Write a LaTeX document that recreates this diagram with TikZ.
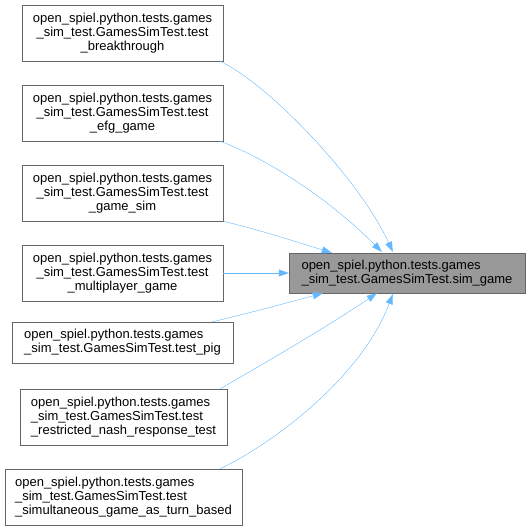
\documentclass[tikz,border=0pt]{standalone}
\usepackage{fontspec}
\setmainfont{Liberation Sans}
\usetikzlibrary{arrows.meta}
\definecolor{edgeblue}{HTML}{63B8FF}
\definecolor{boxgray}{HTML}{666666}
\definecolor{hitgray}{HTML}{999999}

\begin{document}
\begin{tikzpicture}[x=1pt, y=-1pt,
    every node/.style={draw=boxgray, rectangle, inner sep=0pt, font=\fontsize{13}{14}\selectfont},
    caller/.style={align=center, minimum width=201pt, minimum height=56pt},
    callee/.style={fill=hitgray, align=left, minimum width=236pt, minimum height=40pt},
    link/.style={draw=edgeblue, -{Triangle[length=10pt, width=7pt]}}]
        \useasboundingbox (0,0) rectangle (531,530);
        % Define the nodes
        \node[caller] (B) at (122.5,33) {open\_spiel.python.tests.games\\\_sim\_test.GamesSimTest.test\\\_breakthrough};
        \node[caller] (E) at (122.5,113) {open\_spiel.python.tests.games\\\_sim\_test.GamesSimTest.test\\\_efg\_game};
        \node[caller] (G) at (122.5,193) {open\_spiel.python.tests.games\\\_sim\_test.GamesSimTest.test\\\_game\_sim};
        \node[caller] (M) at (122.5,273) {open\_spiel.python.tests.games\\\_sim\_test.GamesSimTest.test\\\_multiplayer\_game};
        \node[caller, align=left, minimum width=221pt, minimum height=41pt] (P) at (122.5,342.5) {open\_spiel.python.tests.games\\\_sim\_test.GamesSimTest.test\_pig};
        \node[caller, align=left, minimum width=207pt] (R) at (123.5,417) {open\_spiel.python.tests.games\\\_sim\_test.GamesSimTest.test\\\_restricted\_nash\_response\_test};
        \node[caller, align=left, minimum width=237pt] (S) at (123.5,497) {open\_spiel.python.tests.games\\\_sim\_test.GamesSimTest.test\\\_simultaneous\_game\_as\_turn\_based};
        \node[callee] (T) at (407,273) {open\_spiel.python.tests.games\\\_sim\_test.GamesSimTest.sim\_game};

        \begin{scope}[every node/.style={draw=none}]
        \draw[link] ([xshift=-3pt]B.south east) .. controls (270,85) and (360,180) .. ([xshift=104pt,yshift=1pt]T.north west);
        \draw[link] ([xshift=-3pt]E.south east) .. controls (270,160) and (330,200) .. ([xshift=93pt,yshift=1pt]T.north west);
        \draw[link] (G.south east) .. controls (260,230) and (300,243) .. ([xshift=43pt]T.north west);
        \draw[link] (M.east) -- (T.west);
        \draw[link] ([xshift=-21pt]P.north east) .. controls (250,313) and (290,302) .. ([xshift=34pt]T.south west);
        \draw[link] ([xshift=-7pt]R.north east) .. controls (270,360) and (330,325) .. ([xshift=88pt]T.south west);
        \draw[link] ([xshift=-22pt]S.north east) .. controls (270,445) and (360,380) .. ([xshift=104pt,yshift=-1pt]T.south west);
        \end{scope}
    \end{tikzpicture}
\end{document}
